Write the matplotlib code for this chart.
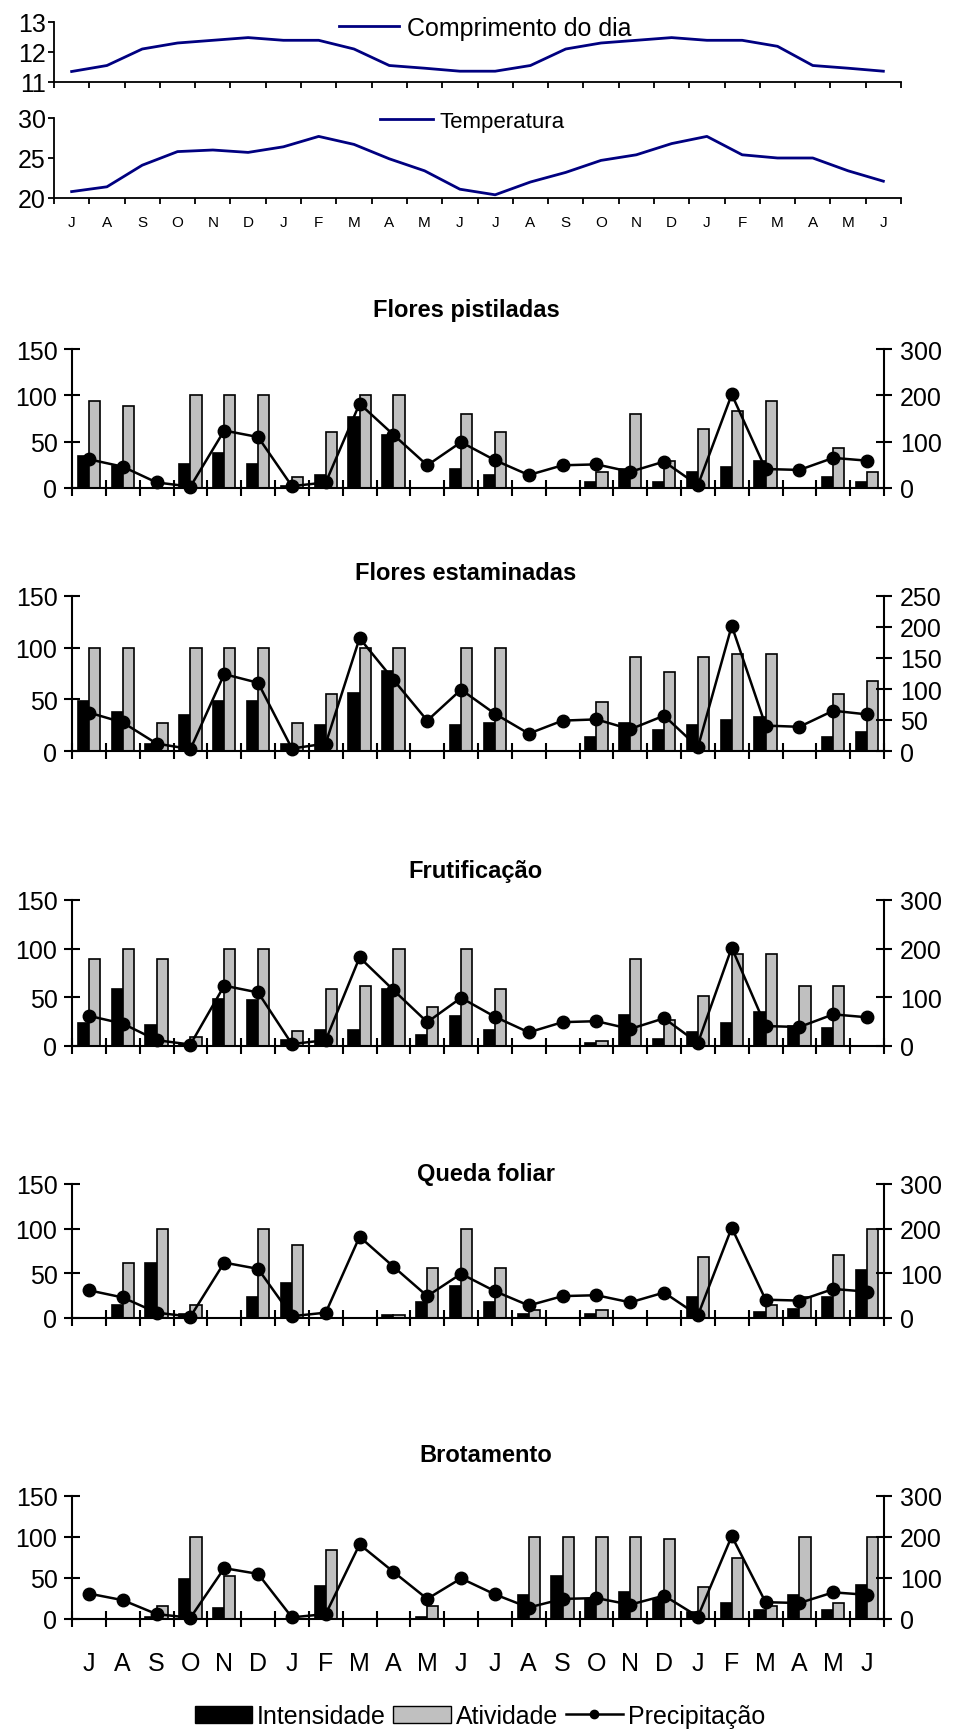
import numpy as np
import matplotlib.pyplot as plt
from matplotlib.patches import Patch
from matplotlib.lines import Line2D

plt.rcParams['font.family'] = ['Liberation Sans', 'DejaVu Sans']

# months Jul .. Jun, two years
meses = ["J", "A", "S", "O", "N", "D", "J", "F", "M", "A", "M", "J",
         "J", "A", "S", "O", "N", "D", "J", "F", "M", "A", "M", "J"]

comprimento = [11.35, 11.55, 12.1, 12.3, 12.39, 12.48, 12.39, 12.39, 12.1, 11.55, 11.46, 11.36,
               11.36, 11.55, 12.1, 12.3, 12.39, 12.48, 12.39, 12.39, 12.19, 11.55, 11.46, 11.36]
temperatura = [20.8, 21.4, 24.1, 25.8, 26.0, 25.7, 26.4, 27.7, 26.7, 24.9, 23.4, 21.1,
               20.4, 22.0, 23.2, 24.7, 25.4, 26.8, 27.7, 25.4, 25.0, 25.0, 23.4, 22.1]
precipitacao = [62, 46, 12, 3, 124, 110, 4, 12, 182, 115, 49, 99,
                60, 28, 49, 51, 35, 57, 6, 202, 41, 39, 65, 59]

pist_int = [34, 24, 0, 26, 38, 26, 2, 14, 77, 57, 0, 21, 14, 0, 0, 6, 21, 6, 17, 23, 29, 0, 12, 6]
pist_ativ = [94, 89, 0, 100, 100, 100, 12, 60, 100, 100, 0, 80, 60, 0, 0, 17, 80, 29, 64, 83, 94, 0, 43, 17]

estam_int = [48, 38, 7, 35, 48, 48, 7, 25, 56, 77, 0, 25, 27, 0, 0, 14, 27, 20, 25, 30, 33, 0, 14, 18]
estam_ativ = [100, 100, 27, 100, 100, 100, 27, 55, 100, 100, 0, 100, 100, 0, 0, 47, 91, 76, 91, 94, 94, 0, 55, 68]

frut_int = [24, 59, 22, 2, 48, 47, 6, 16, 16, 59, 11, 31, 16, 0, 0, 3, 32, 7, 14, 24, 35, 21, 19, 0]
frut_ativ = [89, 100, 89, 9, 100, 100, 15, 59, 62, 100, 40, 100, 59, 0, 0, 5, 89, 27, 51, 95, 95, 62, 62, 0]

queda_int = [0, 15, 62, 4, 0, 24, 39, 0, 0, 3, 18, 36, 18, 4, 0, 4, 0, 0, 24, 0, 7, 10, 24, 54]
queda_ativ = [0, 62, 100, 15, 0, 100, 82, 0, 0, 3, 56, 100, 56, 9, 0, 9, 0, 0, 68, 0, 15, 24, 70, 100]

brot_int = [0, 0, 3, 49, 14, 0, 0, 40, 0, 0, 3, 0, 0, 29, 52, 25, 33, 25, 9, 20, 11, 29, 11, 42]
brot_ativ = [0, 0, 16, 100, 52, 0, 0, 84, 0, 0, 16, 0, 0, 100, 100, 100, 100, 97, 39, 75, 16, 100, 20, 100]

W, H = 963, 1731
fig = plt.figure(figsize=(W / 100, H / 100), dpi=100)


def rect(x0, y0, x1, y1):
    return [x0 / W, 1 - y1 / H, (x1 - x0) / W, (y1 - y0) / H]


x = np.arange(24)
navy = "#000080"


def top_panel(r, y, lims, ticks, label, leg_xy, leg_size, show_months):
    ax = fig.add_axes(r)
    ax.plot(x, y, color=navy, lw=2, label=label)
    ax.set_xlim(-0.5, 23.5)
    ax.set_ylim(*lims)
    ax.set_yticks(ticks)
    ax.set_xticks(np.arange(-0.5, 24, 1))
    ax.set_xticklabels([])
    ax.spines[['top', 'right']].set_visible(False)
    for s in ['left', 'bottom']:
        ax.spines[s].set_linewidth(1.3)
    ax.tick_params(axis='both', direction='out', length=4, width=1.3)
    ax.tick_params(axis='y', labelsize=18, pad=2)
    if show_months:
        ax.set_xticks(x, minor=True)
        ax.set_xticklabels(meses, minor=True, fontsize=11)
        ax.tick_params(axis='x', which='minor', length=0, pad=12)
    ax.legend(loc='center', bbox_to_anchor=leg_xy, frameon=False,
              fontsize=leg_size, handlelength=2.4,
              handletextpad=0.3, borderaxespad=0)
    return ax


top_panel(rect(54, 23, 901, 83), comprimento, (11, 13), [11, 12, 13],
          "Comprimento do dia", (0.509, 0.90), 18, False)
top_panel(rect(54, 119, 901, 199), temperatura, (20, 30), [20, 25, 30],
          "Temperatura", (0.494, 0.96), 16, True)


def bar_panel(r, title, tpos, inten, ativ, rmax, rstep, show_months=False):
    ax = fig.add_axes(r)
    ax.bar(x - 0.165, inten, 0.33, color='black', edgecolor='black', lw=1.2)
    ax.bar(x + 0.165, ativ, 0.33, color='#c0c0c0', edgecolor='black', lw=1.2)
    ax.set_xlim(-0.5, 23.5)
    ax.set_ylim(0, 150)
    ax.set_yticks([0, 50, 100, 150])
    ax.set_xticks(np.arange(-0.5, 24, 1))
    ax.set_xticklabels([])
    ax.spines[['top', 'right']].set_visible(False)
    for s in ['left', 'bottom']:
        ax.spines[s].set_linewidth(1.5)
    ax.tick_params(axis='both', direction='inout', length=11, width=1.5)
    ax.tick_params(axis='y', labelsize=18, pad=5)
    if show_months:
        ax.set_xticks(x, minor=True)
        ax.set_xticklabels(meses, minor=True, fontsize=18)
        ax.tick_params(axis='x', which='minor', length=0, pad=23)

    ax2 = ax.twinx()
    ax2.plot(x, precipitacao, color='black', lw=1.8, marker='o', ms=9, clip_on=False)
    ax2.set_ylim(0, rmax)
    ax2.set_yticks(np.arange(0, rmax + 1, rstep))
    ax2.spines[['top', 'left', 'bottom']].set_visible(False)
    ax2.spines['right'].set_linewidth(1.5)
    ax2.tick_params(axis='y', direction='inout', length=11, width=1.5, labelsize=18, pad=6)

    fig.text(tpos[0] / W, 1 - tpos[1] / H, title, ha='center', va='center',
             fontsize=17, fontweight='bold')
    return ax


bar_panel(rect(72, 350, 884, 489), "Flores pistiladas", (466, 311), pist_int, pist_ativ, 300, 100)
bar_panel(rect(72, 597, 884, 752), "Flores estaminadas", (466, 574), estam_int, estam_ativ, 250, 50)
bar_panel(rect(72, 901, 884, 1047), "Frutificação", (475, 872), frut_int, frut_ativ, 300, 100)
bar_panel(rect(72, 1185, 884, 1319), "Queda foliar", (486, 1174), queda_int, queda_ativ, 300, 100)
bar_panel(rect(72, 1497, 884, 1620), "Brotamento", (486, 1456), brot_int, brot_ativ, 300, 100,
          show_months=True)

handles = [Patch(facecolor='black', edgecolor='black', label='Intensidade'),
           Patch(facecolor='#c0c0c0', edgecolor='black', label='Atividade'),
           Line2D([], [], color='black', lw=1.8, marker='o', ms=6, label='Precipitação')]
fig.legend(handles=handles, loc='center', bbox_to_anchor=(480 / W, 1 - 1717 / H),
           ncol=3, frameon=False, fontsize=18, handlelength=2.3, handleheight=0.7,
           handletextpad=0.2, columnspacing=0.3)

fig.savefig("out.png", dpi=100)
